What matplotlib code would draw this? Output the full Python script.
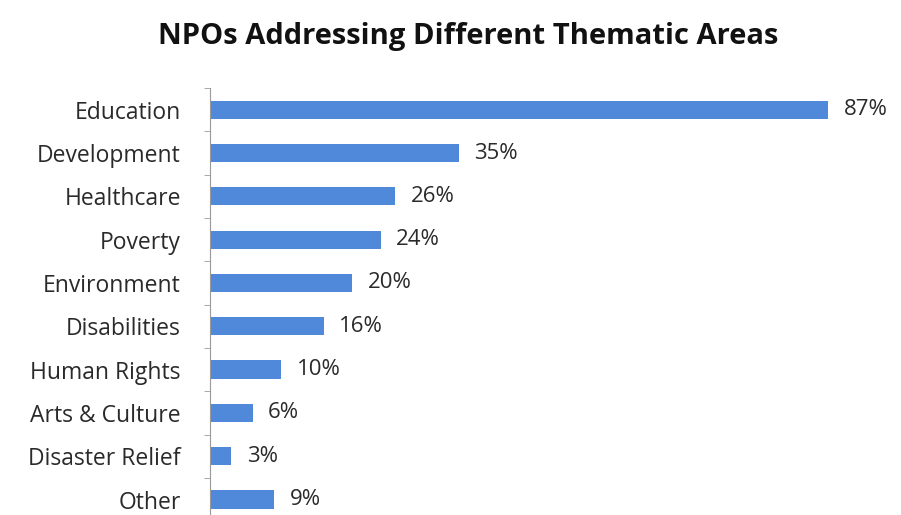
import matplotlib.pyplot as plt
import numpy as np

categories = ['Education', 'Development', 'Healthcare', 'Poverty', 'Environment',
              'Disabilities', 'Human Rights', 'Arts & Culture', 'Disaster Relief', 'Other']
values = [87, 35, 26, 24, 20, 16, 10, 6, 3, 9]
labels = ['87%', '35%', '26%', '24%', '20%', '16%', '10%', '6%', '3%', '9%']

plt.rcParams['font.family'] = ['Open Sans', 'DejaVu Sans']

fig = plt.figure(figsize=(9.01, 5.15), dpi=100)
ax = fig.add_axes([0.233, -0.012, 0.71, 0.841])

y = np.arange(len(categories))
ax.barh(y, values, 0.42, color='#5189da')

for yi, v, lab in zip(y, values, labels):
    ax.text(v + 2.2, yi, lab, va='center', ha='left', fontsize=16, color='#2a2a2a', clip_on=False)

ax.set_ylim(len(categories) - 0.5, -0.5)
ax.set_xlim(0, 90)
ax.set_yticks(y)
ax.set_yticklabels(categories, fontsize=16.5, color='#2a2a2a')
ax.tick_params(axis='y', which='major', length=0, pad=21)
ax.set_yticks(np.arange(len(categories) + 1) - 0.5, minor=True)
ax.tick_params(axis='y', which='minor', length=4, color='#999999')
ax.set_xticks([])

for s in ['top', 'right', 'bottom']:
    ax.spines[s].set_visible(False)
ax.spines['left'].set_color('#999999')

fig.text(0.52, 0.93, 'NPOs Addressing Different Thematic Areas', ha='center', va='center',
         fontsize=21, fontweight='bold', color='#111111')

fig.savefig('out.png', dpi=100)
